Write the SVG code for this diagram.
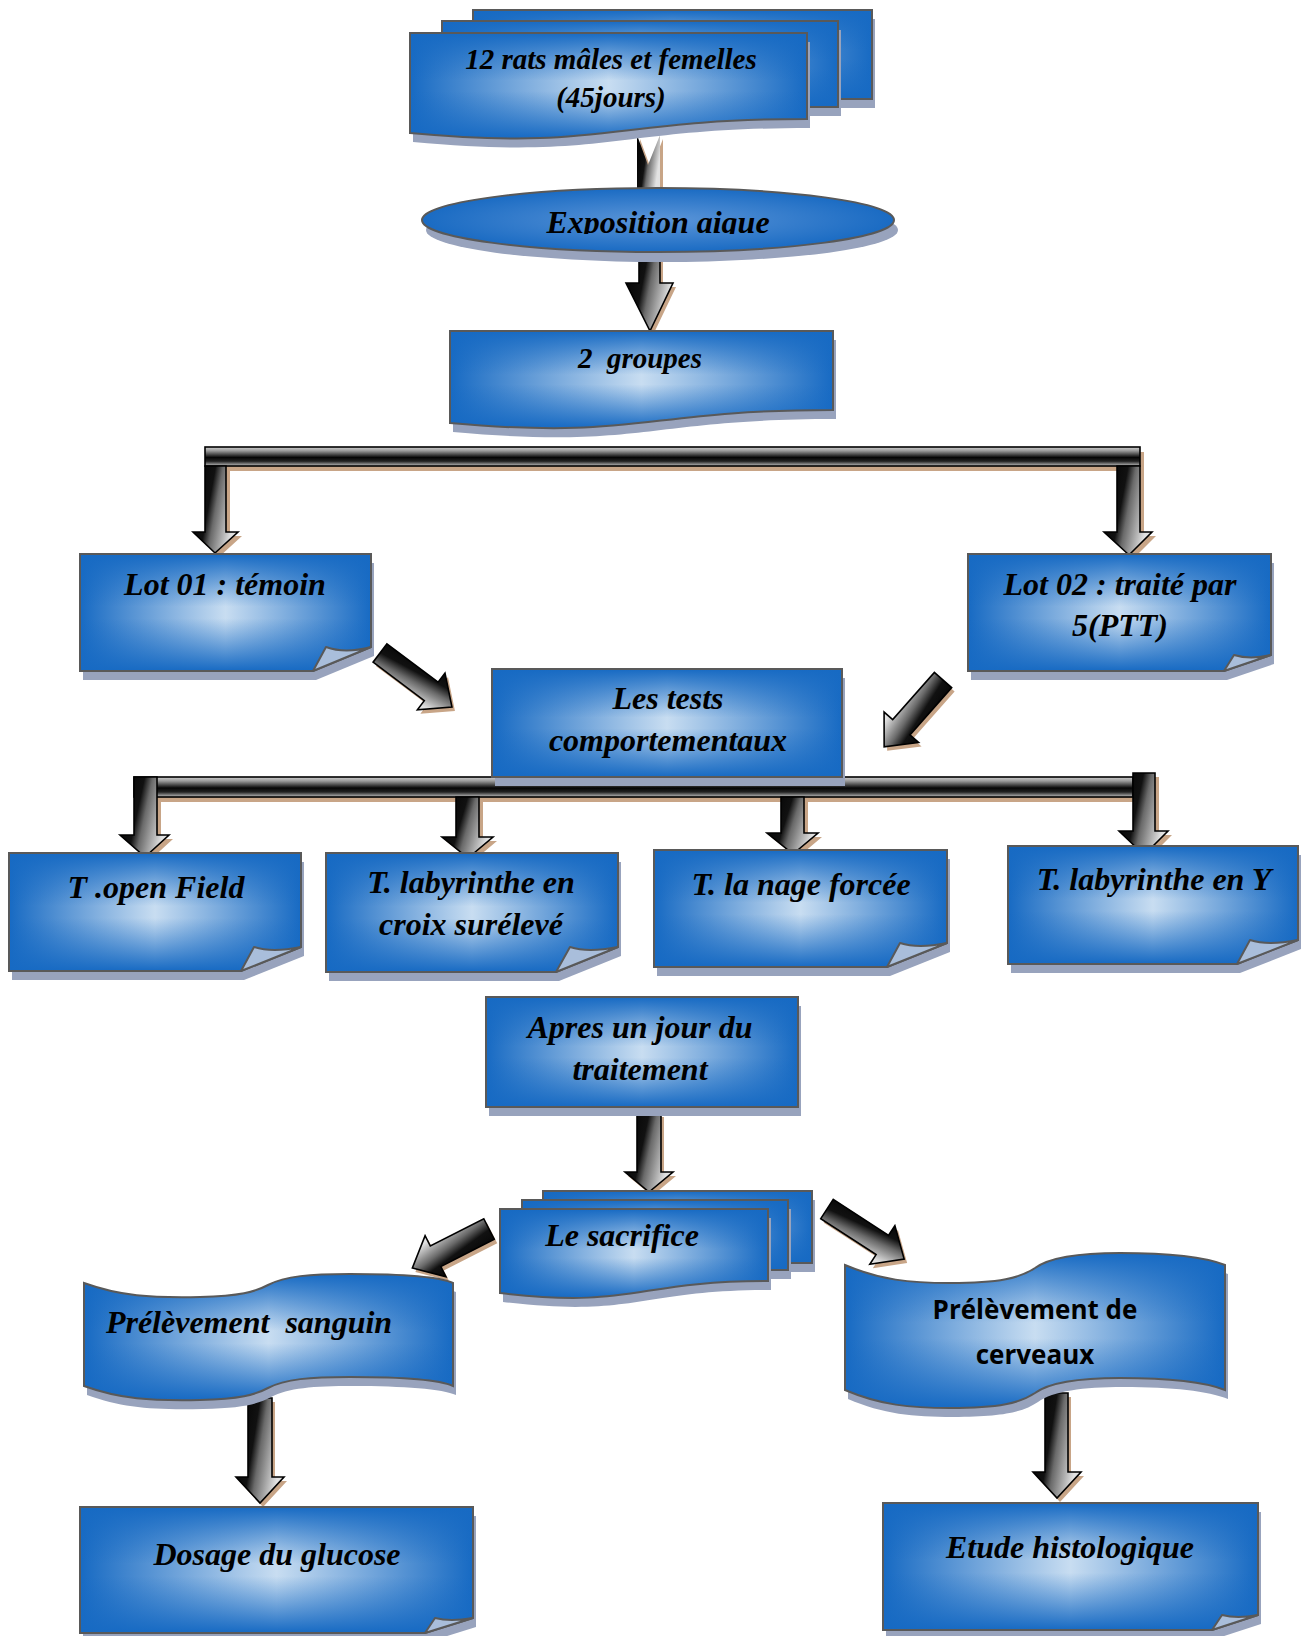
<svg xmlns="http://www.w3.org/2000/svg" xmlns:xlink="http://www.w3.org/1999/xlink" width="1301" height="1636" viewBox="0 0 1301 1636">
<style>
.shd{fill:#98a3bd}
.fh{fill:url(#gh)}
.fv{fill:url(#gv);stroke:#595959;stroke-width:2}
.fe{fill:url(#ge);stroke:#595959;stroke-width:2}
.fold{fill:#a9bedb;stroke:#595959;stroke-width:2;stroke-linejoin:round}
.ash{fill:#c8a587}
.av{fill:url(#gav);stroke:#000;stroke-width:1.6;stroke-linejoin:miter}
.ad{fill:url(#gad);stroke:#000;stroke-width:1.6}
.bar{fill:url(#gbar);stroke:#000;stroke-width:1.6}
.t{font-family:"Liberation Serif","Times New Roman",serif;font-weight:bold;font-style:italic;font-size:32px;fill:#000;text-anchor:middle}
.t29{font-size:29px}
.s{font-family:"Open Sans","Noto Sans",sans-serif;font-weight:700;font-size:26px;fill:#000;text-anchor:middle}
</style>
<defs>
<linearGradient id="gh" x1="0" y1="0" x2="1" y2="0">
<stop offset="0" stop-color="#176ac3"/><stop offset="0.5" stop-color="#c8ddf1"/><stop offset="1" stop-color="#176ac3"/>
</linearGradient>
<linearGradient id="gv" x1="0" y1="0" x2="0" y2="1">
<stop offset="0" stop-color="#176ac3" stop-opacity="1"/><stop offset="0.45" stop-color="#176ac3" stop-opacity="0"/><stop offset="0.55" stop-color="#176ac3" stop-opacity="0"/><stop offset="1" stop-color="#176ac3" stop-opacity="1"/>
</linearGradient>
<radialGradient id="ge" cx="0.5" cy="0.5" r="0.5">
<stop offset="0" stop-color="#5b95d8"/><stop offset="1" stop-color="#1a6bc3"/>
</radialGradient>
<linearGradient id="gav" x1="0" y1="0" x2="1" y2="0.35">
<stop offset="0" stop-color="#000"/><stop offset="0.45" stop-color="#111"/><stop offset="0.6" stop-color="#6a6a6a"/><stop offset="1" stop-color="#e2e2e2"/>
</linearGradient>
<linearGradient id="gad" x1="0" y1="0" x2="0.3" y2="1">
<stop offset="0" stop-color="#000"/><stop offset="0.45" stop-color="#111"/><stop offset="0.65" stop-color="#6a6a6a"/><stop offset="1" stop-color="#e2e2e2"/>
</linearGradient>
<linearGradient id="gbar" x1="0" y1="0" x2="0" y2="1">
<stop offset="0" stop-color="#cfcfcf"/><stop offset="0.2" stop-color="#9a9a9a"/><stop offset="0.55" stop-color="#050505"/><stop offset="0.75" stop-color="#222"/><stop offset="1" stop-color="#c4c4c4"/>
</linearGradient>
<clipPath id="clipE"><rect x="420" y="186" width="480" height="48"/></clipPath>

<rect id="s-rats3" x="473" y="10" width="399" height="89"/>
<rect id="s-rats2" x="442" y="21" width="396" height="86"/>
<path id="s-rats1" d="M410,33 H807 V119 C608,119 608,151 410,133 Z"/>
<ellipse id="s-expo" cx="658" cy="220" rx="236" ry="32"/>
<path id="s-grp" d="M450,331 H833 V410 C641,410 641,440 450,423 Z"/>
<path id="s-lot01" d="M80,554 H371 V647 L313,671 H80 Z"/>
<path id="s-lot02" d="M968,554 H1271 V655 L1224,671 H968 Z"/>
<rect id="s-tests" x="492" y="669" width="350" height="108"/>
<path id="s-open" d="M9,853 H301 V947 L241,971 H9 Z"/>
<path id="s-croix" d="M326,853 H618 V947 L556,972 H326 Z"/>
<path id="s-nage" d="M654,850 H947 V943 L887,967 H654 Z"/>
<path id="s-ylab" d="M1008,846 H1298 V940 L1237,964 H1008 Z"/>
<rect id="s-apres" x="486" y="997" width="312" height="110"/>
<rect id="s-sac3" x="543" y="1191" width="269" height="72"/>
<rect id="s-sac2" x="522" y="1200" width="266" height="70"/>
<path id="s-sac1" d="M500,1209 H768 V1281 C634,1281 634,1309 500,1293 Z"/>
<path id="s-sang" d="M84,1283 C120,1296 150,1298 200,1297 C240,1296 255,1292 268,1285 C285,1276 310,1274 350,1274 C400,1274 440,1277 453,1283 L453,1386 C440,1380 400,1377 350,1377 C310,1377 285,1379 268,1388 C255,1395 240,1399 200,1400 C150,1401 120,1399 84,1386 Z"/>
<path id="s-cerv" d="M845,1265 C880,1280 910,1283 950,1283 C1000,1283 1020,1278 1035,1268 C1050,1257 1080,1253 1120,1253 C1170,1253 1205,1257 1225,1265 L1225,1390 C1205,1382 1170,1378 1120,1378 C1080,1378 1050,1382 1035,1393 C1020,1403 1000,1408 950,1408 C910,1408 880,1405 845,1390 Z"/>
<path id="s-dos" d="M80,1507 H473 V1618 L425,1633 H80 Z"/>
<path id="s-etude" d="M883,1503 H1258 V1615 L1212,1630 H883 Z"/>

<polygon id="c-a1" points="637,135 648,165 660,135 660,192 637,192"/>
<polygon id="c-a2" points="639,245 660,245 660,283 673,283 650,331 626,283 639,283"/>
<rect id="c-bar1" x="205" y="447" width="935" height="19"/>
<polygon id="c-d1" points="205,466 226,466 226,532 238,532 215,553 193,532 205,532"/>
<polygon id="c-d2" points="1117,466 1140,466 1140,532 1152,532 1129,555 1104,532 1117,532"/>
<polygon id="c-l1" points="0,-11.5 64,-11.5 64,-23 90,0 64,23 64,11.5 0,11.5"/>
<polygon id="c-l2" points="0,-11.5 63,-11.5 63,-23 89,0 63,23 63,11.5 0,11.5"/>
<rect id="c-bar2" x="134" y="777" width="999" height="20"/>
<polygon id="c-t1" points="134,777 157,777 157,835 169,835 145,857 120,835 134,835"/>
<polygon id="c-t2" points="456,797 479,797 479,837 493,837 468,858 442,837 456,837"/>
<polygon id="c-t3" points="781,797 804,797 804,833 818,833 793,854 767,833 781,833"/>
<polygon id="c-t4" points="1133,773 1155,773 1155,831 1168,831 1144,855 1119,831 1133,831"/>
<polygon id="c-as" points="637,1113 661,1113 661,1172 673,1172 649,1192 625,1172 637,1172"/>
<polygon id="c-l3" points="0,-11.5 60,-11.5 60,-23 86,0 60,23 60,11.5 0,11.5"/>
<polygon id="c-l4" points="0,-11.5 66,-11.5 66,-23 92,0 66,23 66,11.5 0,11.5"/>
<polygon id="c-sd" points="248,1398 272,1398 272,1477 284,1477 260,1503 236,1477 248,1477"/>
<polygon id="c-ce" points="1045,1393 1068,1393 1068,1472 1081,1472 1057,1498 1033,1472 1045,1472"/>
</defs>

<rect width="1301" height="1636" fill="#fff"/>

<g id="connectors">
<use href="#c-a1" class="ash" transform="translate(3,4)"/><use href="#c-a1" class="av" style="stroke:none"/>
<use href="#c-a2" class="ash" transform="translate(3,4)"/><use href="#c-a2" class="av"/>
<use href="#c-bar1" class="ash" transform="translate(4,5)"/>
<use href="#c-d1" class="ash" transform="translate(4,4)"/>
<use href="#c-d2" class="ash" transform="translate(4,4)"/>
<use href="#c-bar1" class="bar"/>
<use href="#c-d1" class="av"/><use href="#c-d2" class="av"/>
<use href="#c-l1" class="ash" transform="translate(383,657) rotate(36.9)"/><use href="#c-l1" class="ad" transform="translate(380,653) rotate(36.9)"/>
<use href="#c-l2" class="ash" transform="translate(946,684) rotate(131.4)"/><use href="#c-l2" class="ad" transform="translate(943,680) rotate(131.4)"/>
<use href="#c-bar2" class="ash" transform="translate(4,5)"/>
<use href="#c-t1" class="ash" transform="translate(4,4)"/><use href="#c-t2" class="ash" transform="translate(4,4)"/><use href="#c-t3" class="ash" transform="translate(4,4)"/><use href="#c-t4" class="ash" transform="translate(4,4)"/>
<use href="#c-bar2" class="bar"/>
<use href="#c-t1" class="av"/><use href="#c-t2" class="av"/><use href="#c-t3" class="av"/><use href="#c-t4" class="av"/>
<use href="#c-as" class="ash" transform="translate(3,4)"/><use href="#c-as" class="av"/>
<use href="#c-l3" class="ash" transform="translate(492,1233) rotate(153)"/><use href="#c-l3" class="ad" transform="translate(489,1229) rotate(153)"/>
<use href="#c-l4" class="ash" transform="translate(830,1213) rotate(33)"/><use href="#c-l4" class="ad" transform="translate(827,1209) rotate(33)"/>
<use href="#c-sd" class="ash" transform="translate(3,4)"/><use href="#c-sd" class="av"/>
<use href="#c-ce" class="ash" transform="translate(3,4)"/><use href="#c-ce" class="av"/>
</g>

<g id="node-rats">
<use href="#s-rats3" class="shd" transform="translate(3,9)"/><use href="#s-rats3" class="fh"/><use href="#s-rats3" class="fv"/>
<use href="#s-rats2" class="shd" transform="translate(3,9)"/><use href="#s-rats2" class="fh"/><use href="#s-rats2" class="fv"/>
<use href="#s-rats1" class="shd" transform="translate(3,9)"/><use href="#s-rats1" class="fh"/><use href="#s-rats1" class="fv"/>
<text class="t t29" x="611" y="69">12 rats mâles et femelles</text>
<text class="t t29" x="611" y="107">(45jours)</text>
</g>

<g id="node-exposition">
<use href="#s-expo" class="shd" transform="translate(4,10)"/><use href="#s-expo" class="fe"/>
<text class="t" x="658" y="233" clip-path="url(#clipE)">Exposition aigue</text>
</g>

<g id="node-groupes">
<use href="#s-grp" class="shd" transform="translate(3,9)"/><use href="#s-grp" class="fh"/><use href="#s-grp" class="fv"/>
<text class="t t29" x="640" y="368" xml:space="preserve">2  groupes</text>
</g>

<g id="node-lot01">
<use href="#s-lot01" class="shd" transform="translate(3,9)"/><use href="#s-lot01" class="fh"/><use href="#s-lot01" class="fv"/>
<path class="fold" d="M313,671 L326,647 Q345,654 371,647 Z"/>
<text class="t" x="225" y="595">Lot 01 : témoin</text>
</g>

<g id="node-lot02">
<use href="#s-lot02" class="shd" transform="translate(3,9)"/><use href="#s-lot02" class="fh"/><use href="#s-lot02" class="fv"/>
<path class="fold" d="M1224,671 L1234,655 Q1250,660 1271,655 Z"/>
<text class="t" x="1120" y="595">Lot 02 : traité par</text>
<text class="t" x="1120" y="636">5(PTT)</text>
</g>

<g id="node-tests">
<use href="#s-tests" class="shd" transform="translate(3,9)"/><use href="#s-tests" class="fh"/><use href="#s-tests" class="fv"/>
<text class="t" x="668" y="709">Les tests</text>
<text class="t" x="668" y="751">comportementaux</text>
</g>

<g id="node-openfield">
<use href="#s-open" class="shd" transform="translate(3,9)"/><use href="#s-open" class="fh"/><use href="#s-open" class="fv"/>
<path class="fold" d="M241,971 L254,947 Q272,953 301,947 Z"/>
<text class="t" x="156" y="898">T .open Field</text>
</g>

<g id="node-croix">
<use href="#s-croix" class="shd" transform="translate(3,9)"/><use href="#s-croix" class="fh"/><use href="#s-croix" class="fv"/>
<path class="fold" d="M556,972 L570,947 Q588,953 618,947 Z"/>
<text class="t" x="471" y="893">T. labyrinthe en</text>
<text class="t" x="471" y="935">croix surélevé</text>
</g>

<g id="node-nage">
<use href="#s-nage" class="shd" transform="translate(3,9)"/><use href="#s-nage" class="fh"/><use href="#s-nage" class="fv"/>
<path class="fold" d="M887,967 L900,943 Q918,949 947,943 Z"/>
<text class="t" x="801" y="895">T. la nage forcée</text>
</g>

<g id="node-labY">
<use href="#s-ylab" class="shd" transform="translate(3,9)"/><use href="#s-ylab" class="fh"/><use href="#s-ylab" class="fv"/>
<path class="fold" d="M1237,964 L1250,940 Q1268,946 1298,940 Z"/>
<text class="t" x="1154" y="890">T. labyrinthe en Y</text>
</g>

<g id="node-apres">
<use href="#s-apres" class="shd" transform="translate(3,9)"/><use href="#s-apres" class="fh"/><use href="#s-apres" class="fv"/>
<text class="t" x="640" y="1038">Apres un jour du</text>
<text class="t" x="640" y="1080">traitement</text>
</g>

<g id="node-sacrifice">
<use href="#s-sac3" class="shd" transform="translate(3,9)"/><use href="#s-sac3" class="fh"/><use href="#s-sac3" class="fv"/>
<use href="#s-sac2" class="shd" transform="translate(3,9)"/><use href="#s-sac2" class="fh"/><use href="#s-sac2" class="fv"/>
<use href="#s-sac1" class="shd" transform="translate(3,9)"/><use href="#s-sac1" class="fh"/><use href="#s-sac1" class="fv"/>
<text class="t" x="622" y="1246">Le sacrifice</text>
</g>

<g id="node-sanguin">
<use href="#s-sang" class="shd" transform="translate(3,9)"/><use href="#s-sang" class="fh"/><use href="#s-sang" class="fv"/>
<text class="t" x="249" y="1333" xml:space="preserve">Prélèvement  sanguin</text>
</g>

<g id="node-cerveaux">
<use href="#s-cerv" class="shd" transform="translate(3,9)"/><use href="#s-cerv" class="fh"/><use href="#s-cerv" class="fv"/>
<text class="s" x="1035" y="1319">Prélèvement de</text>
<text class="s" x="1035" y="1364">cerveaux</text>
</g>

<g id="node-dosage">
<use href="#s-dos" class="shd" transform="translate(3,9)"/><use href="#s-dos" class="fh"/><use href="#s-dos" class="fv"/>
<path class="fold" d="M425,1633 L435,1618 Q450,1622 473,1618 Z"/>
<text class="t" x="277" y="1565">Dosage du glucose</text>
</g>

<g id="node-etude">
<use href="#s-etude" class="shd" transform="translate(3,9)"/><use href="#s-etude" class="fh"/><use href="#s-etude" class="fv"/>
<path class="fold" d="M1212,1630 L1222,1615 Q1237,1619 1258,1615 Z"/>
<text class="t" x="1070" y="1558">Etude histologique</text>
</g>
</svg>
